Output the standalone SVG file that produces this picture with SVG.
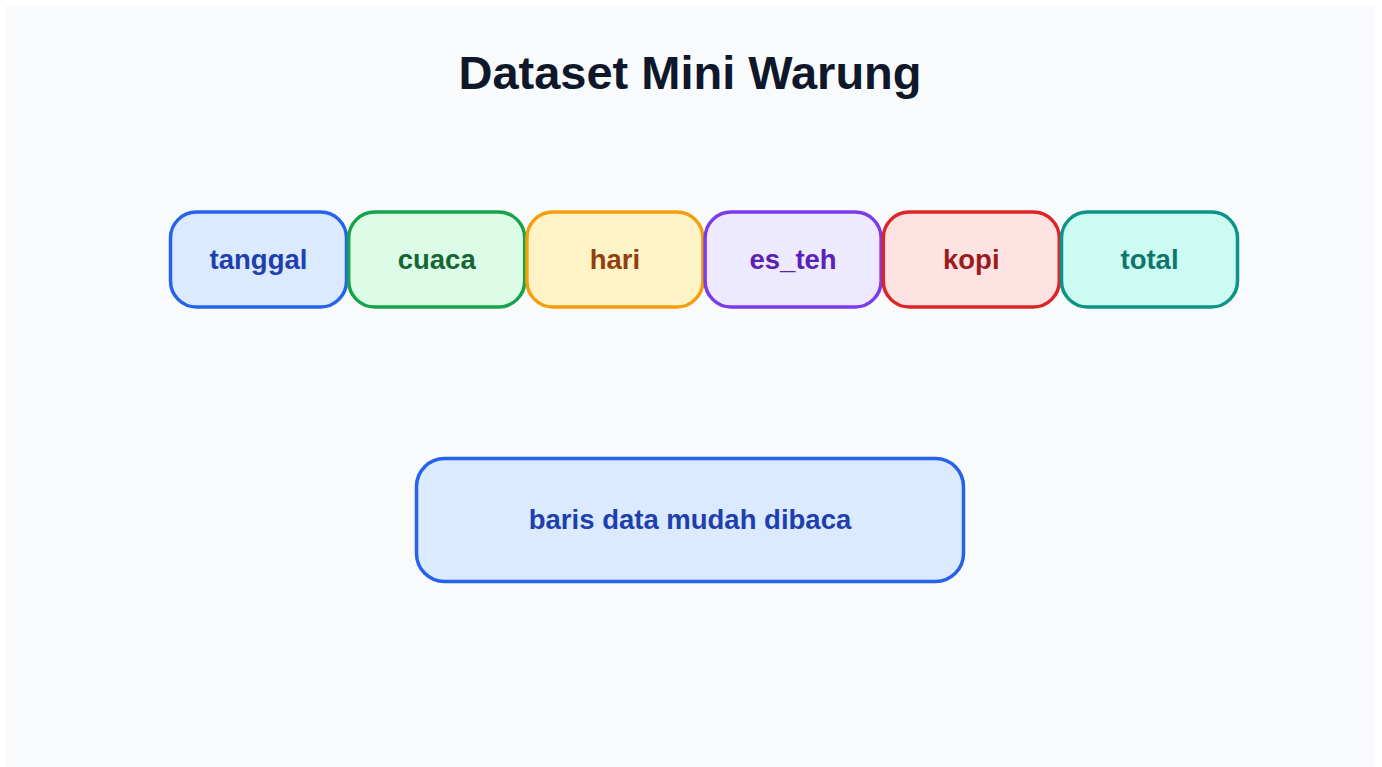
<svg xmlns="http://www.w3.org/2000/svg" width="1382" height="767" viewBox="0 0 1382 767">
<style>
.bg{fill:#f8fafc}
.t{font-family:"Liberation Sans",Arial,sans-serif;font-weight:bold;text-anchor:middle}
.title{font-size:47px;fill:#0f172a}
.lbl{font-size:27.5px}
.box{stroke-width:3.5}
</style>
<rect width="1382" height="767" fill="#ffffff"/>
<rect class="bg" x="5" y="6" width="1370" height="761"/>
<text class="t title" x="690" y="89">Dataset Mini Warung</text>
<g id="connectors"></g>
<g id="tanggal"><rect class="box" x="170.5" y="212" width="176" height="95" rx="26" fill="#dbeafe" stroke="#2563eb"/><text class="t lbl" x="258.5" y="269" fill="#1e40af">tanggal</text></g>
<g id="cuaca"><rect class="box" x="348.7" y="212" width="176" height="95" rx="26" fill="#dcfce7" stroke="#16a34a"/><text class="t lbl" x="436.7" y="269" fill="#166534">cuaca</text></g>
<g id="hari"><rect class="box" x="526.9" y="212" width="176" height="95" rx="26" fill="#fef3c7" stroke="#f59e0b"/><text class="t lbl" x="614.9" y="269" fill="#92400e">hari</text></g>
<g id="es_teh"><rect class="box" x="705.1" y="212" width="176" height="95" rx="26" fill="#ede9fe" stroke="#7c3aed"/><text class="t lbl" x="793.1" y="269" fill="#5b21b6">es_teh</text></g>
<g id="kopi"><rect class="box" x="883.3" y="212" width="176" height="95" rx="26" fill="#fee2e2" stroke="#dc2626"/><text class="t lbl" x="971.3" y="269" fill="#991b1b">kopi</text></g>
<g id="total"><rect class="box" x="1061.5" y="212" width="176" height="95" rx="26" fill="#ccfbf1" stroke="#0d9488"/><text class="t lbl" x="1149.5" y="269" fill="#0f766e">total</text></g>
<g id="baris"><rect class="box" x="416.5" y="458.5" width="547" height="123" rx="28" fill="#dbeafe" stroke="#2563eb"/><text class="t lbl" x="690" y="529" fill="#1e40af">baris data mudah dibaca</text></g>
</svg>
